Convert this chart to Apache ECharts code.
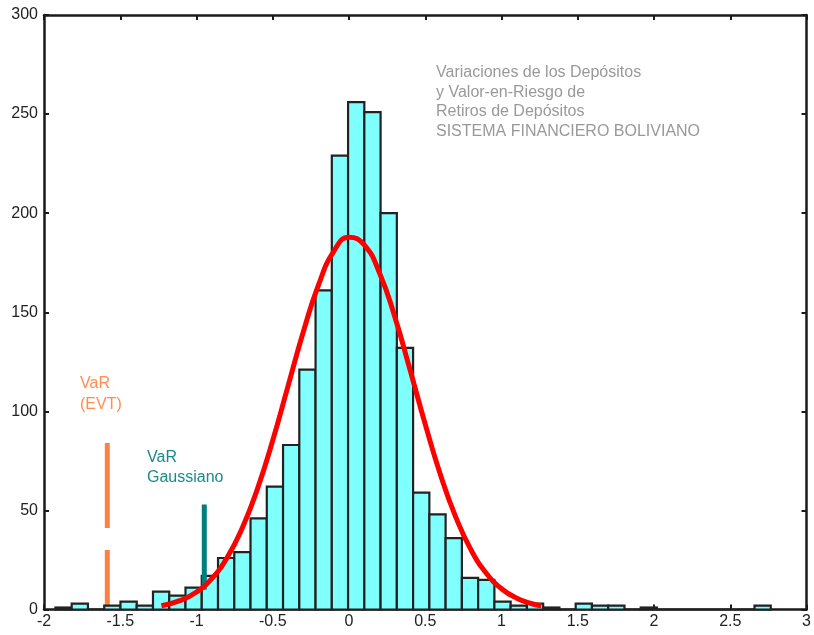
<!DOCTYPE html>
<html>
<head>
<meta charset="utf-8">
<script src="https://cdn.jsdelivr.net/npm/echarts@6/dist/echarts.min.js"></script>
<style>
html,body{margin:0;padding:0;background:#fff;}
#chart{width:814px;height:635px;}
</style>
</head>
<body>
<div id="chart"></div>
<script>
// ---- data ----
var binStart = -1.925;
var binWidth = 0.1066;
var binCounts = [1, 3, 0, 2, 4, 2, 9, 7, 11, 17, 26, 29, 46, 62, 83, 121, 161, 229, 256, 251,
                 200, 132, 59, 48, 36, 16, 15, 4, 2, 3, 1, 0, 3, 2, 2, 0, 1, 0, 0, 0,
                 0, 0, 0, 2];
var curveX = [-1.23, -1.1, -1.0, -0.9, -0.8, -0.7, -0.6, -0.5, -0.4, -0.3, -0.2, -0.1, 0.0,
              0.1, 0.2, 0.3, 0.4, 0.5, 0.6, 0.7, 0.8, 0.9, 1.0, 1.1, 1.2, 1.26];
var curveY = [1.9, 4.7, 8.8, 15.6, 26.1, 41.1, 61.0, 85.4, 112.7, 140.0, 163.8, 180.7, 187.9,
              184.0, 169.8, 147.7, 121.0, 93.4, 67.9, 46.6, 30.1, 18.3, 10.5, 5.7, 2.9, 1.9];
var varEVT = {x: -1.585, top: 84, bottom: 0};
var varGauss = {x: -0.949, top: 53, bottom: 10};
var xTicks = {min: -2, max: 3, step: 0.5};
var yTicks = {min: 0, max: 300, step: 50};
var titleLines = ['Variaciones de los Depósitos', 'y Valor-en-Riesgo de', 'Retiros de Depósitos', 'SISTEMA FINANCIERO BOLIVIANO'];
var evtLabel = ['VaR', '(EVT)'];
var gaussLabel = ['VaR', 'Gaussiano'];

// ---- build ----
var bars = binCounts.map(function (c, i) {
  var a = binStart + i * binWidth;
  return [a, a + binWidth, c];
});
var curve = curveX.map(function (x, i) { return [x, curveY[i]]; });

var FONT = '"Liberation Sans", Arial, sans-serif';
var axisLineStyle = {color: '#1a1a1a', width: 2.5};
var tickStyle = {show: true, inside: true, length: 5, lineStyle: {color: '#1a1a1a', width: 2}};

var chart = echarts.init(document.getElementById('chart'), null, {renderer: 'canvas'});
chart.setOption({
  animation: false,
  backgroundColor: '#ffffff',
  grid: {left: 44, right: 7, top: 15, bottom: 25.5, containLabel: false},
  xAxis: [{
    type: 'value', min: xTicks.min, max: xTicks.max, interval: xTicks.step,
    position: 'bottom',
    axisLine: {show: true, onZero: false, lineStyle: axisLineStyle},
    axisTick: tickStyle,
    axisLabel: {color: '#222', fontSize: 16, fontFamily: FONT, margin: 4},
    splitLine: {show: false}
  }, {
    type: 'value', min: xTicks.min, max: xTicks.max, interval: xTicks.step,
    position: 'top',
    axisLine: {show: true, onZero: false, lineStyle: axisLineStyle},
    axisTick: tickStyle,
    axisLabel: {show: false},
    splitLine: {show: false}
  }],
  yAxis: [{
    type: 'value', min: yTicks.min, max: yTicks.max, interval: yTicks.step,
    position: 'left',
    axisLine: {show: true, onZero: false, lineStyle: axisLineStyle},
    axisTick: tickStyle,
    axisLabel: {color: '#222', fontSize: 16, fontFamily: FONT, margin: 6},
    splitLine: {show: false}
  }, {
    type: 'value', min: yTicks.min, max: yTicks.max, interval: yTicks.step,
    position: 'right',
    axisLine: {show: true, onZero: false, lineStyle: axisLineStyle},
    axisTick: tickStyle,
    axisLabel: {show: false},
    splitLine: {show: false}
  }],
  series: [
    {
      type: 'line', data: [[varEVT.x, varEVT.top], [varEVT.x, varEVT.bottom]],
      symbol: 'none', silent: true, z: 1,
      lineStyle: {color: '#ff8040', width: 5, type: [85, 22], cap: 'butt'}
    },
    {
      type: 'custom', z: 2, silent: true,
      renderItem: function (params, api) {
        var p0 = api.coord([api.value(0), api.value(2)]);
        var p1 = api.coord([api.value(1), 0]);
        return {
          type: 'rect',
          shape: {x: p0[0], y: p0[1], width: p1[0] - p0[0], height: p1[1] - p0[1]},
          style: {fill: '#80ffff', stroke: '#222222', lineWidth: 2.2}
        };
      },
      encode: {x: [0, 1], y: 2},
      data: bars
    },
    {
      type: 'line', data: [[varGauss.x, varGauss.top], [varGauss.x, varGauss.bottom]],
      symbol: 'none', silent: true, z: 3,
      lineStyle: {color: '#007f7f', width: 5, cap: 'butt'}
    },
    {
      type: 'line', data: curve, smooth: true, symbol: 'none', silent: true, z: 4,
      lineStyle: {color: '#ff0000', width: 5}
    }
  ],
  graphic: [
    {type: 'text', left: 436, top: 63, silent: true,
     style: {text: titleLines.join('\n'), fill: '#999999', font: '16px ' + FONT, lineHeight: 19.5}},
    {type: 'text', left: 80, top: 373, silent: true,
     style: {text: evtLabel.join('\n'), fill: '#ff8c50', font: '16px ' + FONT, lineHeight: 21}},
    {type: 'text', left: 147, top: 448, silent: true,
     style: {text: gaussLabel.join('\n'), fill: '#1a8a8a', font: '16px ' + FONT, lineHeight: 20}}
  ]
});
</script>
</body>
</html>
